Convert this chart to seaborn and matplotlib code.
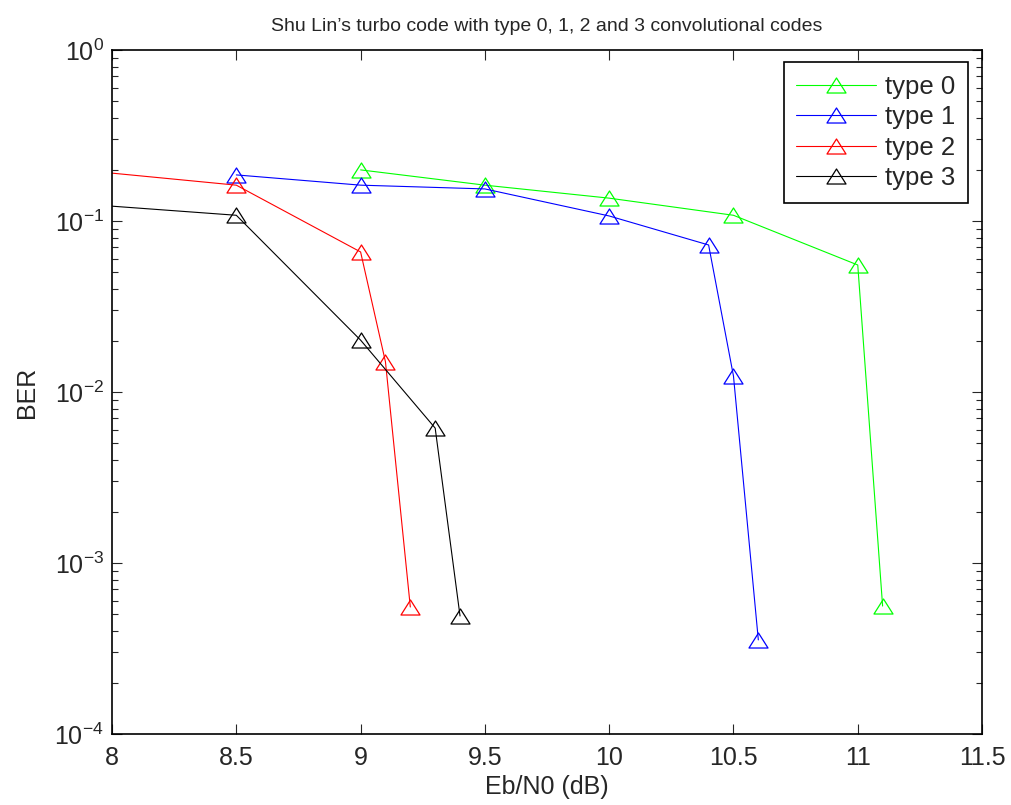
import numpy as np
import pandas as pd
import matplotlib
matplotlib.use("Agg")
import matplotlib.pyplot as plt
from matplotlib.path import Path
from matplotlib.ticker import FuncFormatter, LogLocator, MultipleLocator
import seaborn as sns

# data
x_type0 = [9.0, 9.5, 10.0, 10.5, 11.0, 11.1]
ber_type0 = [0.199, 0.162, 0.136, 0.108, 0.0553, 5.6e-4]
x_type1 = [8.5, 9.0, 9.5, 10.0, 10.4, 10.5, 10.6]
ber_type1 = [0.186, 0.162, 0.154, 0.107, 0.0724, 0.0124, 3.55e-4]
x_type2 = [7.5, 8.5, 9.0, 9.1, 9.2]
ber_type2 = [0.224, 0.162, 0.0659, 0.0150, 5.53e-4]
x_type3 = [7.5, 8.5, 9.0, 9.3, 9.4]
ber_type3 = [0.138, 0.108, 0.0201, 0.00615, 4.9e-4]
labels = ["type 0", "type 1", "type 2", "type 3"]
colors = ["#00ff00", "#0000ff", "#ff0000", "#000000"]

sns.set_style("ticks")
plt.rcParams["font.family"] = ["Liberation Sans", "DejaVu Sans"]
plt.rcParams["mathtext.fontset"] = "custom"
plt.rcParams["mathtext.rm"] = "Liberation Sans"
plt.rcParams["mathtext.it"] = "Liberation Sans"

# MATLAB-like triangle (slightly wider than tall)
tri = Path([(0, 0.79), (-1, -0.79), (1, -0.79), (0, 0.79)],
           [Path.MOVETO, Path.LINETO, Path.LINETO, Path.CLOSEPOLY])

fig = plt.figure(figsize=(10.12, 8.05), dpi=100)
ax = fig.add_axes([0.1107, 0.0882, 0.8597, 0.8497])

series = [(x_type0, ber_type0), (x_type1, ber_type1), (x_type2, ber_type2), (x_type3, ber_type3)]
for (xs, ys), lab, c in zip(series, labels, colors):
    df = pd.DataFrame({"x": xs, "y": ys})
    sns.lineplot(data=df, x="x", y="y", ax=ax, color=c, label=lab,
                 marker=tri, markersize=13.7, markerfacecolor="none",
                 markeredgecolor=c, markeredgewidth=0.9, linewidth=0.8,
                 sort=False, estimator=None)

ax.set_yscale("log")
ax.set_xlim(8, 11.5)
ax.set_ylim(1e-4, 1)
ax.xaxis.set_major_locator(MultipleLocator(0.5))
ax.xaxis.set_major_formatter(FuncFormatter(lambda v, p: f"{v:g}"))
ax.yaxis.set_major_locator(LogLocator(base=10, numticks=10))
ax.yaxis.set_minor_locator(LogLocator(base=10, subs=np.arange(2, 10), numticks=50))

ax.tick_params(which="both", direction="in", top=True, right=True, labelsize=18)
ax.tick_params(which="major", length=7, width=0.8)
ax.tick_params(which="minor", length=4, width=0.8)
ax.tick_params(axis="y", which="minor", labelleft=False)
ax.tick_params(axis="x", pad=9)
ax.tick_params(axis="y", pad=6)
for s in ax.spines.values():
    s.set_visible(True)
    s.set_linewidth(1.2)
    s.set_color("black")

ax.set_xlabel("Eb/N0 (dB)", fontsize=18, labelpad=3)
ax.set_ylabel("BER", fontsize=18, labelpad=11)
ax.set_title("Shu Lin\u2019s turbo code with type 0, 1, 2 and 3 convolutional codes",
             fontsize=14, pad=14)

leg = ax.legend(loc="upper right", fontsize=18.5, fancybox=False, framealpha=1,
                edgecolor="black", borderpad=0.5, handlelength=3.1,
                handletextpad=0.35, labelspacing=0.25, borderaxespad=0,
                bbox_to_anchor=(0.984, 0.9825))
leg.get_frame().set_linewidth(1.2)

fig.savefig("out.png", dpi=100)
